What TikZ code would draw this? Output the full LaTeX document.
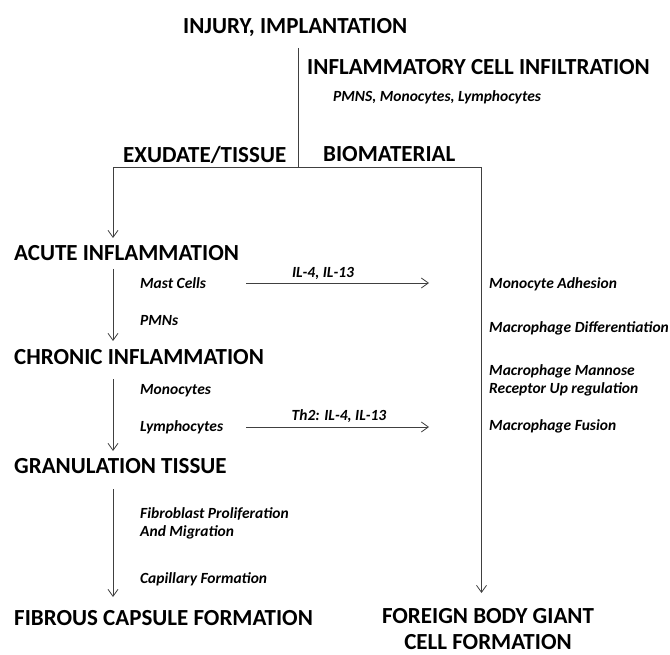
\documentclass[tikz,border=0pt]{standalone}
\usepackage{fontspec}
\setmainfont{Carlito}
\usetikzlibrary{arrows.meta}
\begin{document}
\begin{tikzpicture}[x=1pt,y=-1pt,
  big/.style={font=\fontsize{23}{26}\selectfont\bfseries, inner sep=0pt, anchor=base west},
  small/.style={font=\fontsize{15.5}{18}\selectfont\bfseries\itshape, inner sep=0pt, anchor=base west},
  ln/.style={draw=black!75, line width=0.8pt},
  arr/.style={ln, -{Straight Barb[length=7pt,width=10pt]}}]
\useasboundingbox (0,0) rectangle (670,655);
% headings
\node[big] (injury) at (183,34) {INJURY, IMPLANTATION};
\node[big] (infl) at (307,75) {INFLAMMATORY CELL INFILTRATION};
\node[small] (pmns) at (333,102) {PMNS, Monocytes, Lymphocytes};
\node[big] (exud) at (123,163) {EXUDATE/TISSUE};
\node[big] (bio) at (323,162) {BIOMATERIAL};
\node[big] (acute) at (14,261) {ACUTE INFLAMMATION};
\node[big] (chronic) at (14,364) {CHRONIC INFLAMMATION};
\node[big] (gran) at (14,473) {GRANULATION TISSUE};
\node[big] (fibrous) at (14,625) {FIBROUS CAPSULE FORMATION};
\node[big, anchor=base] (fbgc) at (488,623) {FOREIGN BODY GIANT};
\node[big, anchor=base] (fbgc2) at (488,649) {CELL FORMATION};
% left small texts
\node[small] (mast) at (140,289) {Mast Cells};
\node[small] (pmn) at (140,326) {PMNs};
\node[small] (mono) at (140,395) {Monocytes};
\node[small] (lymph) at (140,431) {Lymphocytes};
\node[small, align=left] (fibro) at (140,536) {Fibroblast Proliferation\\And Migration};
\node[small] (cap) at (140,583) {Capillary Formation};
% right small texts
\node[small] (adh) at (489,289) {Monocyte Adhesion};
\node[small] (diff) at (489,333) {Macrophage Differentiation};
\node[small, align=left] (mann) at (489,393) {Macrophage Mannose\\Receptor Up regulation};
\node[small] (fus) at (489,430) {Macrophage Fusion};
% coordinates
\coordinate (top) at (298,48);
\coordinate (mid) at (298,167.5);
\coordinate (hl) at (113,167.5);
\coordinate (hr) at (481.5,167.5);
\coordinate (acutetip) at (113,238);
\coordinate (fbgctip) at (481.5,593);
\coordinate (a1s) at (113,269);
\coordinate (a1e) at (113,341);
\coordinate (a2s) at (113,379);
\coordinate (a2e) at (113,451);
\coordinate (a3s) at (113,489);
\coordinate (a3e) at (113,597);
\coordinate (il4s) at (246,283);
\coordinate (il4e) at (429,283);
\coordinate (th2s) at (246,427);
\coordinate (th2e) at (429,427);
% connectors
\draw[ln] (top) -- (mid);
\draw[arr] (mid) -- (hl) -- (acutetip);
\draw[arr] (mid) -- (hr) -- (fbgctip);
\draw[arr] (a1s) -- (a1e);
\draw[arr] (a2s) -- (a2e);
\draw[arr] (a3s) -- (a3e);
\draw[arr] (il4s) -- (il4e);
\draw[arr] (th2s) -- (th2e);
\node[small, anchor=base] (il4lab) at (323,278) {IL-4, IL-13};
\node[small, anchor=base] (th2lab) at (339,420) {Th2: IL-4, IL-13};
\end{tikzpicture}
\end{document}
